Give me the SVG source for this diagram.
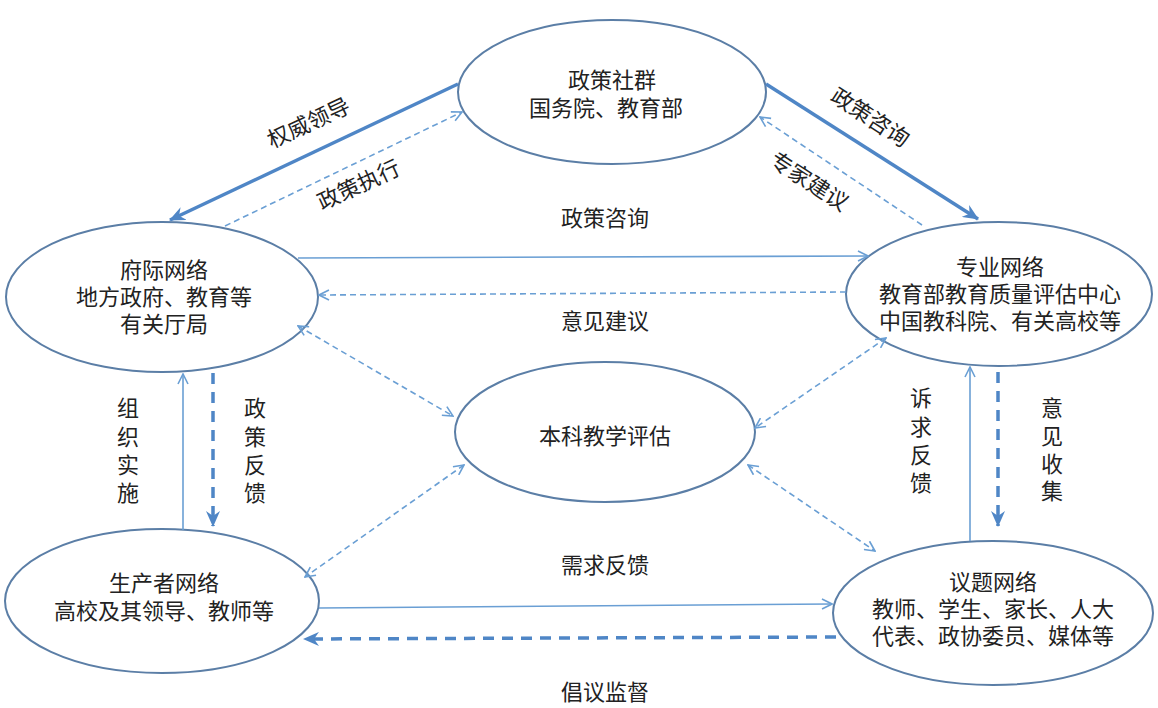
<svg xmlns="http://www.w3.org/2000/svg" width="1158" height="708" viewBox="0 0 1158 708">
<defs>
<style>
.node{fill:#fff;stroke:#5b7ea6;stroke-width:2}
.t{font-family:"Liberation Serif","Noto Sans CJK SC",serif;font-size:22px;fill:#222;text-anchor:middle}
.thin{fill:none;stroke:#6a9fd4;stroke-width:1.6}
.thind{fill:none;stroke:#6a9fd4;stroke-width:1.6;stroke-dasharray:6 4}
.thick{fill:none;stroke:#4f86c6;stroke-width:3.5}
.thickd{fill:none;stroke:#4f86c6;stroke-width:3.5;stroke-dasharray:11 8}
</style>
<marker id="open" viewBox="0 0 12 12" refX="11" refY="6" markerWidth="12" markerHeight="12" markerUnits="userSpaceOnUse" orient="auto-start-reverse">
<path d="M1,1 L11,6 L1,11" fill="none" stroke="#6a9fd4" stroke-width="1.6"/>
</marker>
<marker id="solid" viewBox="0 0 16 14" refX="15" refY="7" markerWidth="16" markerHeight="14" markerUnits="userSpaceOnUse" orient="auto-start-reverse">
<path d="M0,0 L16,7 L0,14 L5,7 z" fill="#4f86c6"/>
</marker>
</defs>
<rect width="1158" height="708" fill="#fff"/>

<g id="policy-community">
<ellipse class="node" cx="612" cy="92" rx="154" ry="72"/>
<text class="t" x="612" y="88">政策社群</text>
<text class="t" x="606" y="116">国务院、教育部</text>
</g>
<g id="intergov-network">
<ellipse class="node" cx="162" cy="297" rx="156" ry="75"/>
<text class="t" x="164" y="278">府际网络</text>
<text class="t" x="164" y="305">地方政府、教育等</text>
<text class="t" x="164" y="332">有关厅局</text>
</g>
<g id="professional-network">
<ellipse class="node" cx="999" cy="294" rx="153" ry="72"/>
<text class="t" x="1000" y="275">专业网络</text>
<text class="t" x="1000" y="302">教育部教育质量评估中心</text>
<text class="t" x="1000" y="329">中国教科院、有关高校等</text>
</g>
<g id="evaluation">
<ellipse class="node" cx="605" cy="432" rx="150" ry="70"/>
<text class="t" x="605" y="444">本科教学评估</text>
</g>
<g id="producer-network">
<ellipse class="node" cx="162" cy="601" rx="157" ry="72"/>
<text class="t" x="164" y="591">生产者网络</text>
<text class="t" x="164" y="619">高校及其领导、教师等</text>
</g>
<g id="issue-network">
<ellipse class="node" cx="993" cy="613" rx="160" ry="72"/>
<text class="t" x="993" y="590">议题网络</text>
<text class="t" x="993" y="617">教师、学生、家长、人大</text>
<text class="t" x="993" y="644">代表、政协委员、媒体等</text>
</g>

<g id="connectors">
<line class="thick" x1="458" y1="84" x2="170" y2="220" marker-end="url(#solid)"/>
<line class="thind" x1="225" y1="226" x2="462" y2="112" marker-end="url(#open)"/>
<line class="thick" x1="766" y1="84" x2="978" y2="219" marker-end="url(#solid)"/>
<line class="thind" x1="922" y1="225" x2="760" y2="117" marker-end="url(#open)"/>
<line class="thin" x1="298" y1="258" x2="868" y2="256" marker-end="url(#open)"/>
<line class="thind" x1="846" y1="292" x2="319" y2="295" marker-end="url(#open)"/>
<line class="thind" x1="298" y1="326" x2="453" y2="416" marker-start="url(#open)" marker-end="url(#open)"/>
<line class="thind" x1="886" y1="338" x2="755" y2="428" marker-start="url(#open)" marker-end="url(#open)"/>
<line class="thind" x1="464" y1="465" x2="305" y2="577" marker-start="url(#open)" marker-end="url(#open)"/>
<line class="thind" x1="748" y1="465" x2="875" y2="551" marker-start="url(#open)" marker-end="url(#open)"/>
<line class="thin" x1="183" y1="530" x2="183" y2="374" marker-end="url(#open)"/>
<line class="thickd" x1="213" y1="373" x2="213" y2="526" marker-end="url(#solid)"/>
<line class="thin" x1="319" y1="608" x2="832" y2="604" marker-end="url(#open)"/>
<line class="thickd" x1="836" y1="637" x2="304" y2="639" marker-end="url(#solid)"/>
<line class="thin" x1="970" y1="541" x2="970" y2="367" marker-end="url(#open)"/>
<line class="thickd" x1="998" y1="372" x2="998" y2="526" marker-end="url(#solid)"/>
</g>

<g id="labels">
<text class="t" transform="translate(312,130) rotate(-25)">权威领导</text>
<text class="t" transform="translate(362,192) rotate(-25)">政策执行</text>
<text class="t" transform="translate(866,124) rotate(33)">政策咨询</text>
<text class="t" transform="translate(805,188) rotate(33)">专家建议</text>
<text class="t" x="605" y="226">政策咨询</text>
<text class="t" x="605" y="329">意见建议</text>
<text class="t" x="605" y="573">需求反馈</text>
<text class="t" x="605" y="700">倡议监督</text>
<text class="t" x="128"><tspan x="128" y="416">组</tspan><tspan x="128" y="445">织</tspan><tspan x="128" y="473">实</tspan><tspan x="128" y="501">施</tspan></text>
<text class="t" x="255"><tspan x="255" y="416">政</tspan><tspan x="255" y="445">策</tspan><tspan x="255" y="473">反</tspan><tspan x="255" y="501">馈</tspan></text>
<text class="t" x="921"><tspan x="921" y="406">诉</tspan><tspan x="921" y="435">求</tspan><tspan x="921" y="463">反</tspan><tspan x="921" y="491">馈</tspan></text>
<text class="t" x="1052"><tspan x="1052" y="416">意</tspan><tspan x="1052" y="444">见</tspan><tspan x="1052" y="472">收</tspan><tspan x="1052" y="499">集</tspan></text>
</g>
</svg>
